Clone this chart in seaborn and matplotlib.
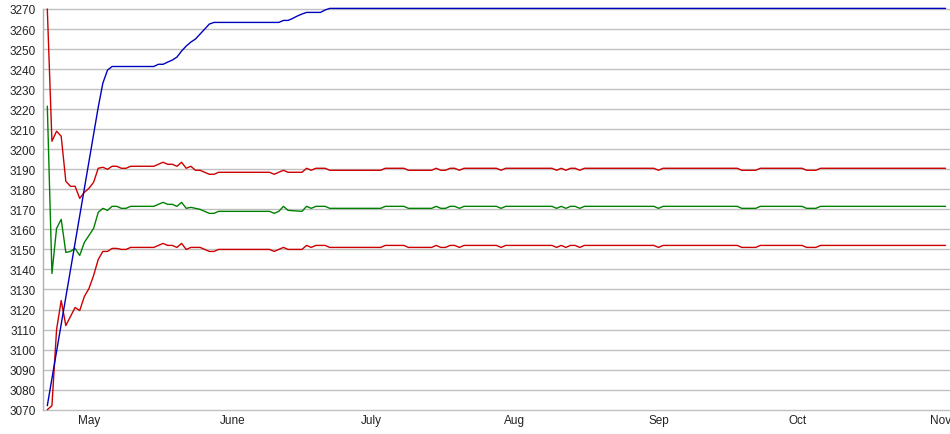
import matplotlib
matplotlib.use("Agg")
import pandas as pd
import matplotlib.pyplot as plt
import seaborn as sns

sns.set_theme(style="white")
plt.rcParams['font.family'] = ['Liberation Sans', 'DejaVu Sans']

# days counted from the first point of the series
start = pd.Timestamp("2012-04-22")

band_days = [0, 1, 2, 3, 4, 5, 6, 7, 8, 9, 10, 11, 12, 13, 14, 15, 16, 17, 18,
             23, 24, 25, 26, 27, 28, 29, 30, 31, 32, 33, 34, 35, 36, 37,
             48, 49, 50, 51, 52, 55, 56, 57, 58, 60, 61, 72, 73, 77, 78,
             83, 84, 85, 86, 87, 88, 89, 90, 97, 98, 99, 109, 110, 111, 112,
             113, 114, 115, 116, 131, 132, 133, 149, 150, 153, 154, 163, 164,
             166, 167, 194]

upper = [3270, 3204, 3209, 3206.5, 3184, 3181.5, 3181.5, 3175.5, 3178.5, 3180.5,
         3183.5, 3190.5, 3191, 3190, 3191.5, 3191.5, 3190.5, 3190.5, 3191.5,
         3191.5, 3192.5, 3193.5, 3192.5, 3192.5, 3191.5, 3193.5, 3190.5, 3191.5,
         3189.5, 3189.5, 3188.5, 3187.5, 3187.5, 3188.5,
         3188.5, 3187.5, 3188.5, 3189.5, 3188.5, 3188.5, 3190.5, 3189.5, 3190.5,
         3190.5, 3189.5, 3189.5, 3190.5, 3190.5, 3189.5,
         3189.5, 3190.5, 3189.5, 3189.5, 3190.5, 3190.5, 3189.5, 3190.5, 3190.5,
         3189.5, 3190.5, 3190.5, 3189.5, 3190.5, 3189.5,
         3190.5, 3190.5, 3189.5, 3190.5, 3190.5, 3189.5, 3190.5, 3190.5, 3189.5,
         3189.5, 3190.5, 3190.5, 3189.5, 3189.5, 3190.5, 3190.5]

middle = [3221.5, 3138, 3160.5, 3165, 3148.5, 3149, 3150.5, 3147, 3153.5, 3157,
          3160.5, 3168.5, 3170.5, 3169.5, 3171.5, 3171.5, 3170.5, 3170.5, 3171.5,
          3171.5, 3172.5, 3173.5, 3172.5, 3172.5, 3171.5, 3173.5, 3170.5, 3171,
          3170.5, 3170, 3169, 3168, 3168, 3169,
          3169, 3168, 3169, 3171.5, 3169.5, 3169, 3171.5, 3170.5, 3171.5,
          3171.5, 3170.5, 3170.5, 3171.5, 3171.5, 3170.5,
          3170.5, 3171.5, 3170.5, 3170.5, 3171.5, 3171.5, 3170.5, 3171.5, 3171.5,
          3170.5, 3171.5, 3171.5, 3170.5, 3171.5, 3170.5,
          3171.5, 3171.5, 3170.5, 3171.5, 3171.5, 3170.5, 3171.5, 3171.5, 3170.5,
          3170.5, 3171.5, 3171.5, 3170.5, 3170.5, 3171.5, 3171.5]

lower = [3070, 3072, 3110, 3124.5, 3112, 3116.5, 3121, 3119.5, 3126.5, 3130.5,
         3137, 3145, 3149, 3149, 3150.5, 3150.5, 3150, 3150, 3151,
         3151, 3152, 3153, 3152, 3152, 3151, 3153, 3150, 3151,
         3151, 3151, 3150, 3149, 3149, 3150,
         3150, 3149, 3150, 3151, 3150, 3150, 3152, 3151, 3152,
         3152, 3151, 3151, 3152, 3152, 3151,
         3151, 3152, 3151, 3151, 3152, 3152, 3151, 3152, 3152,
         3151, 3152, 3152, 3151, 3152, 3151,
         3152, 3152, 3151, 3152, 3152, 3151, 3152, 3152, 3151,
         3151, 3152, 3152, 3151, 3151, 3152, 3152]

trend_days = [0, 11, 12, 13, 14, 23, 24, 25, 26, 27, 28, 29, 30, 31, 32, 33, 34,
              35, 36, 50, 51, 52, 53, 54, 55, 56, 59, 60, 61, 194]
trend = [3072, 3221, 3233, 3239.5, 3241.3, 3241.3, 3242.4, 3242.4, 3243.5, 3244.5,
         3246, 3249, 3251.5, 3253.5, 3255, 3257.5, 3260, 3262.5, 3263.3, 3263.3,
         3264.3, 3264.3, 3265.3, 3266.5, 3267.5, 3268.3, 3268.3, 3269.5, 3270.3,
         3270.3]

month_ticks = ["2012-05-01", "2012-06-01", "2012-07-01", "2012-08-01",
               "2012-09-01", "2012-10-01", "2012-11-01"]
month_labels = ["May", "June", "July", "Aug", "Sep", "Oct", "Nov"]

band = pd.DataFrame({
    "date": start + pd.to_timedelta(band_days, unit="D"),
    "upper": upper,
    "middle": middle,
    "lower": lower,
})
trend_df = pd.DataFrame({
    "date": start + pd.to_timedelta(trend_days, unit="D"),
    "value": trend,
})

fig = plt.figure(figsize=(9.5, 4.35), dpi=100)
ax = fig.add_axes([43 / 950, 1 - 410.7 / 435, 1 - 43 / 950, 400.7 / 435])

lw = 1.0
sns.lineplot(data=band, x="date", y="upper", color="#cc0000", linewidth=lw, ax=ax)
sns.lineplot(data=band, x="date", y="middle", color="#008000", linewidth=lw, ax=ax)
sns.lineplot(data=band, x="date", y="lower", color="#cc0000", linewidth=lw, ax=ax)
sns.lineplot(data=trend_df, x="date", y="value", color="#0000c0", linewidth=lw, ax=ax)
for line in ax.get_lines():
    line.set_clip_on(False)

ax.set_ylim(3070, 3270)
ax.set_yticks(range(3070, 3271, 10))
ax.set_xlim(start - pd.Timedelta(days=0.93), start + pd.Timedelta(days=194.96))
ax.set_xticks(pd.to_datetime(month_ticks))
ax.set_xticklabels(month_labels)

ax.set_xlabel("")
ax.set_ylabel("")
ax.grid(axis="y", color="#c0c0c0", linewidth=1)
ax.grid(axis="x", visible=False)
for gl in ax.get_ygridlines():
    gl.set_clip_on(False)
ax.set_axisbelow(True)
for side in ["top", "right", "bottom"]:
    ax.spines[side].set_visible(False)
ax.spines["left"].set_color("#b0b0b0")
ax.spines["left"].set_linewidth(1)
ax.tick_params(axis="y", length=0, labelsize=8.5, pad=5, colors="#222222")
ax.tick_params(axis="x", length=0, labelsize=8.5, pad=3, colors="#222222")

fig.savefig("out.png", dpi=100)
